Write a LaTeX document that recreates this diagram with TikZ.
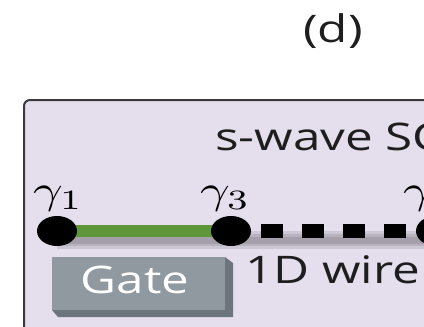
\documentclass[tikz,border=0pt]{standalone}
\usepackage{fontspec}
\usepackage{graphicx}
\setmainfont{Open Sans}
\usetikzlibrary{shapes.geometric}
\pgfdeclarelayer{panel}
\pgfdeclarelayer{wires}
\pgfsetlayers{panel,wires,main}
\definecolor{panelfill}{RGB}{228,222,237}
\definecolor{panelline}{RGB}{58,58,62}
\definecolor{wiregreen}{RGB}{95,150,58}
\definecolor{gateface}{RGB}{144,152,160}
\definecolor{gateside}{RGB}{108,116,124}
\definecolor{inktext}{RGB}{30,30,30}
\newcommand\hstretch[1]{\scalebox{1.3}[1]{#1}}
\newcommand\mathtag[1]{\scalebox{5.2}[4]{$#1$}}
\begin{document}
\begin{tikzpicture}[x=1pt,y=-1pt,
  lbl/.style={inner sep=0pt, text=inktext, font=\fontsize{38}{38}\selectfont},
  mathlbl/.style={inner sep=0pt, text=black},
  majorana/.style={ellipse, fill=black, minimum width=40pt, minimum height=30pt, inner sep=0pt},
  shade line/.style={line width=#1, black, opacity=0.10},
]
\useasboundingbox (0,0) rectangle (424,327);
\clip (0,0) rectangle (424,327);

% superconductor panel
\begin{pgfonlayer}{panel}
  \fill[white] (0,0) rectangle (424,327);
  \draw[panelline, line width=2pt, fill=panelfill, rounded corners=6pt]
    (24,100) rectangle (460,360);
\end{pgfonlayer}

% labels
\node[lbl, anchor=base] (title) at (333,42) {\hstretch{(d)}};
\node[lbl, anchor=base west] (sc) at (215,150) {\hstretch{s-wave SC}};
\node[lbl, anchor=base west] (wire) at (245,283) {\hstretch{1D wire}};

% Majorana end states
\node[majorana] (d1) at (57,231) {};
\node[majorana] (d3) at (231,231) {};
\node[majorana] (d4) at (436,231) {};
\node[mathlbl, anchor=base west] (g1) at (33,203) {\mathtag{\gamma_1}};
\node[mathlbl, anchor=base west] (g3) at (200,203) {\mathtag{\gamma_3}};
\node[mathlbl, anchor=base west] (g4) at (403,203) {\mathtag{\gamma_4}};

% wire segments
\begin{pgfonlayer}{wires}
  \foreach \w in {18pt,12pt,7pt}
    \draw[shade line=\w] ([yshift=-9pt]d1.center) -- ([yshift=-9pt]d4.center);
  \draw[wiregreen, line width=12pt] (d1.center) -- (d3.center);
  \draw[black, line width=14pt, dash pattern=on 22pt off 19pt, dash phase=31pt]
    (d3.east) -- (d4.west);
\end{pgfonlayer}

% gate electrode
\fill[gateside] (225,257) -- (233,263) -- (233,317) -- (58,317) -- (52,310) -- (225,310) -- cycle;
\node[draw=none, fill=gateface, minimum width=173pt, minimum height=53pt, inner sep=0pt,
      anchor=north west] (gate) at (52,257) {};
\node[lbl, text=white, anchor=base] (gatetext) at (135,293) {\hstretch{Gate}};
\end{tikzpicture}
\end{document}
